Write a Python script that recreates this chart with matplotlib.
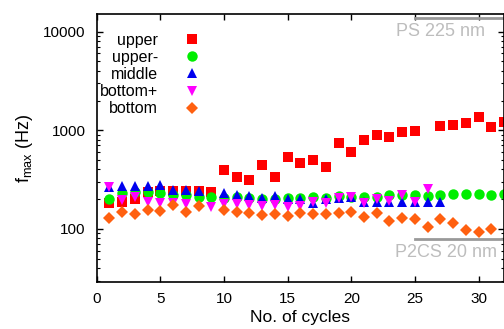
import numpy as np
import matplotlib
matplotlib.use("Agg")
import matplotlib.pyplot as plt

plt.rcParams['font.family'] = ['Liberation Sans', 'DejaVu Sans']
plt.rcParams['mathtext.fontset'] = 'custom'
plt.rcParams['mathtext.rm'] = 'Liberation Sans'
plt.rcParams['mathtext.it'] = 'Liberation Sans'

nan = np.nan
cycles = np.arange(1, 33)

# f_max values (Hz), cycle 1..32
upper = [184, 186, 200, 238, 244, 240, 244, 244, 238, 394, 337, 313, 443, 337, 533, 468,
         494, 420, 734, 600, 805, 891, 844, 962, 984, nan, 1114, 1132, 1177, 1364, 1081, 1205]
upper_minus = [199, 230, 238, 235, 230, 220, 220, 212, 209, 204, 212, 208, 201, 202, 204, 204,
               212, 204, 215, 212, 212, 212, 220, 220, 220, 215, 220, 226, 226, 226, 220, 226]
middle = [264, 274, 272, 272, 278, 248, 248, 244, nan, 230, 220, 215, 207, 215, 200, 200,
          185, 202, 204, 209, 189, 189, 186, 189, 189, 186, 186, nan, nan, nan, nan, nan]
bottom_plus = [264, 196, 209, 189, 182, 185, 177, nan, 168, 177, 177, 175, 171, 175, 168, 172,
               189, 182, 204, 209, 185, 200, 193, 220, 189, 254, nan, nan, nan, nan, nan, nan]
bottom = [130, 150, 142, 156, 153, 175, 150, 172, nan, 156, 148, 144, 138, 141, 136, 144,
          141, 141, 144, 150, 133, 144, 119, 128, 125, 105, 126, 116, 98, 94, 99, nan]

labels = ['upper', 'upper-', 'middle', 'bottom+', 'bottom']
series = [upper, upper_minus, middle, bottom_plus, bottom]
markers = ['s', 'o', '^', 'v', 'D']
colors = ['#ff0000', '#00ee00', '#0000ee', '#ff00ff', '#ff6010']
sizes = [6.5, 7.5, 7, 7, 6]

fig = plt.figure(figsize=(5.04, 3.29), dpi=100)
ax = fig.add_axes([0.192, 0.143, 0.808, 0.814])

for vals, lab, m, c, s in zip(series, labels, markers, colors, sizes):
    ax.plot(cycles, vals, linestyle='none', marker=m, color=c, markersize=s,
            markeredgewidth=0, label=lab)

ax.set_yscale('log')
ax.set_xlim(0, 32)
ax.set_ylim(29, 15000)
ax.set_xticks([0, 5, 10, 15, 20, 25, 30])
ax.set_yticks([100, 1000, 10000])
ax.set_yticklabels(['100', '1000', '10000'])
ax.tick_params(which='both', direction='in', top=True, right=True, labelsize=11)
ax.tick_params(which='major', length=4, width=1)
ax.tick_params(which='minor', length=2.5, width=0.8)
ax.tick_params(axis='y', pad=8)
ax.tick_params(axis='x', pad=7)
for sp in ax.spines.values():
    sp.set_linewidth(1.2)

ax.set_xlabel('No. of cycles', fontsize=12.5, labelpad=3)
ax.set_ylabel(r'f$_{\mathrm{max}}$ (Hz)', fontsize=13, labelpad=6)

# gray sample annotations
ax.plot([25, 32], [13840, 13840], color='#999999', lw=2, clip_on=False)
ax.text(30.5, 10000, 'PS 225 nm', color='#bdbdbd', fontsize=13, ha='right', va='center')
ax.plot([25, 32], [79, 79], color='#999999', lw=2, clip_on=False)
ax.text(31.45, 58, 'P2CS 20 nm', color='#bdbdbd', fontsize=13, ha='right', va='center')

ax.legend(loc='upper left', bbox_to_anchor=(0.008, 0.93), frameon=False, markerfirst=False,
          numpoints=1, handlelength=1.0, handletextpad=1.6, labelspacing=0.13,
          borderpad=0, borderaxespad=0, fontsize=11.5)

fig.savefig('out.png', dpi=100)
